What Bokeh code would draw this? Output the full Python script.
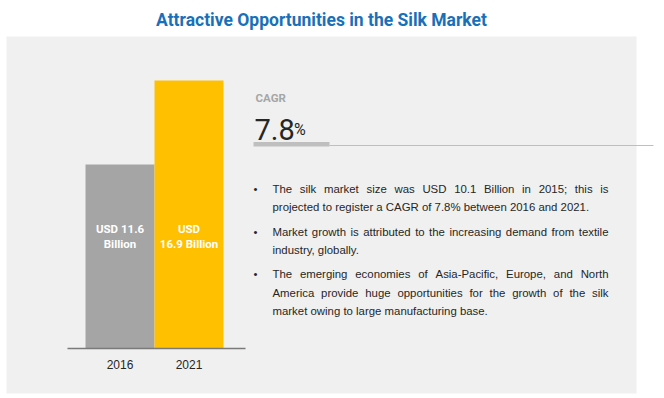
from bokeh.plotting import figure
from bokeh.models import Range1d, ColumnDataSource
from bokeh.core.properties import value
from bokeh.embed import file_html
from bokeh.resources import INLINE

# ---------------- data ----------------
title = "Attractive Opportunities in the Silk Market"
years = ["2016", "2021"]
market_size = [11.6, 16.9]          # USD billion
bar_colors = ["#a5a5a5", "#ffc000"]
label_line1 = ["USD 11.6", "USD"]
label_line2 = ["Billion", "16.9 Billion"]
cagr_label = "CAGR"
cagr_value = "7.8"
cagr_unit = "%"
bullet_paragraphs = [
    ["The silk market size was USD 10.1 Billion in 2015; this is",
     "projected to register a CAGR of 7.8% between 2016 and 2021."],
    ["Market growth is attributed to the increasing demand from textile",
     "industry, globally."],
    ["The emerging economies of Asia-Pacific, Europe, and North",
     "America provide huge opportunities for the growth of the silk",
     "market owing to large manufacturing base."],
]

# ---------------- geometry helpers (page px -> data) ----------------
W, H = 664, 398
ORIGIN = 0
PX_PER_X = 69.0
X0_PAGE = 119.5
BASE_PAGE = 348.0
PX_PER_Y = 268.0 / max(market_size)


def X(px):
    return (px - X0_PAGE) / PX_PER_X


def Y(py):
    return (BASE_PAGE - py) / PX_PER_Y


p = figure(width=W, height=H, output_backend="svg", toolbar_location=None,
           x_range=Range1d(X(ORIGIN), X(ORIGIN + W)),
           y_range=Range1d(Y(ORIGIN + H), Y(ORIGIN)),
           x_axis_type=None, y_axis_type=None, min_border=0)
p.outline_line_color = None
p.background_fill_color = "white"
p.border_fill_color = "white"

COND = value("Roboto")
SANS = value("Liberation Sans")

# grey panel
p.quad(left=X(6), right=X(636), bottom=Y(393), top=Y(36),
       fill_color="#f0f0f0", line_color=None)

# bars
idx = list(range(len(years)))
src = ColumnDataSource(dict(x=idx, top=market_size, color=bar_colors,
                            l1=label_line1, l2=label_line2, yr=years))
p.vbar(x="x", top="top", bottom=0, width=1.0, fill_color="color",
       line_color=None, source=src)
p.segment(x0=X(67), x1=X(245), y0=0, y1=0, line_color="#7a7a7a", line_width=1.5)

p.text(x="x", y=Y(228), text="l1", source=src, text_font=COND,
       text_font_style="bold", text_font_size="11.5px", text_color="white",
       text_align="center", text_baseline="middle")
p.text(x="x", y=Y(243), text="l2", source=src, text_font=COND,
       text_font_style="bold", text_font_size="11.5px", text_color="white",
       text_align="center", text_baseline="middle")
p.text(x="x", y=Y(364), text="yr", source=src, text_font=SANS,
       text_font_size="12px", text_color="#262626",
       text_align="center", text_baseline="middle")

# title
p.text(x=[X(321)], y=[Y(19)], text=[title], text_font=COND,
       text_font_style="bold", text_font_size="17.5px", text_color="#1a70b8",
       text_align="center", text_baseline="middle")

# CAGR block
p.text(x=[X(255)], y=[Y(97.5)], text=[cagr_label], text_font=COND,
       text_font_style="bold", text_font_size="11.5px", text_color="#a6a6a6",
       text_align="left", text_baseline="alphabetic")
p.text(x=[X(254)], y=[Y(129)], text=[cagr_value], text_font=COND,
       text_font_size="29px", text_color="#262626",
       text_align="left", text_baseline="alphabetic")
p.text(x=[X(293.5)], y=[Y(129)], text=[cagr_unit], text_font=COND,
       text_font_size="16px", text_color="#262626",
       text_align="left", text_baseline="alphabetic")
p.quad(left=X(253), right=X(329), top=Y(141.5), bottom=Y(146),
       fill_color="#bfbfbf", line_color=None)
p.segment(x0=X(329), x1=X(653), y0=Y(145), y1=Y(145),
          line_color="#bfbfbf", line_width=1)

# bullet text (justified using Arial/Liberation Sans metrics)
AW = {}
for chars, w in [("ijl'", .222), ("ftI.,;: ", .278), ("r-", .333),
                 ("ckszvxyJ", .5), ("abdeghnopqu0123456789L", .556),
                 ("FTZ", .611), ("ABEKPSVXY", .667), ("wCDHNRU", .722),
                 ("GOQ", .778), ("mM", .833), ("%", .889), ("W", .944)]:
    for c in chars:
        AW[c] = w
FS = 11.4


def tw(s):
    return sum(AW.get(c, 0.556) for c in s) * FS


LEFT, RIGHT = 272.0, 608.0
line_y = [[188.3, 206.7], [231.7, 249.0], [273.3, 292.0, 310.7]]
tx, ty, tt = [], [], []
bx, by = [], []
for para, ys in zip(bullet_paragraphs, line_y):
    bx.append(X(255))
    by.append(Y(ys[0]))
    for i, (line, yy) in enumerate(zip(para, ys)):
        last = i == len(para) - 1
        words = line.split(" ")
        if last or len(words) < 2:
            tx.append(X(LEFT)); ty.append(Y(yy)); tt.append(line)
        else:
            total = sum(tw(w_) for w_ in words)
            gap = (RIGHT - LEFT - total) / (len(words) - 1)
            cx = LEFT
            for w_ in words:
                tx.append(X(cx)); ty.append(Y(yy)); tt.append(w_)
                cx += tw(w_) + gap

p.text(x=tx, y=ty, text=tt, text_font=SANS, text_font_size=f"{FS}px",
       text_color="#262626", text_align="left", text_baseline="middle")
p.text(x=bx, y=by, text=["•"] * len(bx), text_font=SANS,
       text_font_size=f"{FS}px", text_color="#262626",
       text_align="center", text_baseline="middle")

open("out.html", "w").write(file_html(p, INLINE))
